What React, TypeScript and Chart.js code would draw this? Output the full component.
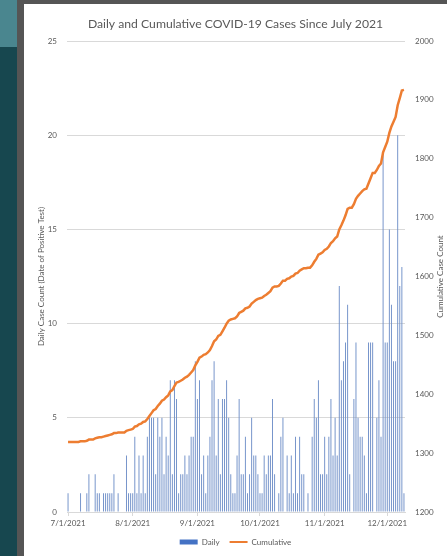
import React, { useEffect, useRef } from 'react';
import { Chart, registerables } from 'chart.js';
Chart.register(...registerables);

const TITLE = 'Daily and Cumulative COVID-19 Cases Since July 2021';
const LEFT_TITLE = 'Daily Case Count (Date of Positive Test)';
const RIGHT_TITLE = 'Cumulative Case Count';
const SERIES_NAMES = ['Daily', 'Cumulative'];
const START = { year: 2021, month: 7, day: 1 };
const monthTickLabels = ['7/1/2021', '8/1/2021', '9/1/2021', '10/1/2021', '11/1/2021', '12/1/2021'];

const dailyJul = [1,0,0,0,0,0,1,0,0,1,2,0,0,2,1,1,0,1,1,1,1,1,2,0,1,0,0,0,3,1,1];
const dailyAug = [1,4,1,3,1,3,1,4,5,5,5,2,5,4,5,2,4,3,7,2,7,6,1,2,2,3,2,3,4,4,8];
const dailySep = [6,7,2,3,1,3,4,7,8,3,6,2,6,6,7,5,2,1,1,3,6,2,2,4,1,2,5,3,3,2];
const dailyOct = [1,1,3,2,3,3,6,2,0,1,4,5,0,3,1,3,1,4,1,4,2,2,0,1,0,4,6,5,7,2,2];
const dailyNov = [4,2,4,6,3,5,3,12,7,8,9,11,2,0,6,9,5,4,4,3,1,9,9,9,0,5,7,4,19,9];
const dailyDec = [9,15,11,8,8,20,12,13,1];

const cumJul = [1319,1319,1319,1319,1319,1319,1320,1320,1320,1321,1323,1323,1323,1325,1326,1327,1327,1328,1329,1330,1331,1332,1334,1334,1335,1335,1335,1335,1338,1339,1340];
const cumAug = [1341,1345,1346,1349,1350,1353,1354,1358,1363,1368,1373,1375,1380,1384,1389,1391,1395,1398,1405,1407,1414,1420,1421,1423,1425,1428,1430,1433,1437,1441,1449];
const cumSep = [1455,1462,1464,1467,1468,1471,1475,1482,1490,1493,1499,1501,1507,1513,1520,1525,1527,1528,1529,1532,1538,1540,1542,1546,1547,1549,1554,1557,1560,1562];
const cumOct = [1563,1564,1567,1569,1572,1575,1581,1583,1583,1584,1588,1593,1593,1596,1597,1600,1601,1605,1606,1610,1612,1614,1614,1615,1615,1619,1625,1630,1637,1639,1641];
const cumNov = [1645,1647,1651,1657,1660,1665,1668,1680,1687,1695,1704,1715,1717,1717,1723,1732,1737,1741,1745,1748,1749,1758,1767,1776,1776,1781,1788,1792,1811,1820];
const cumDec = [1829,1844,1855,1863,1871,1891,1903,1916,1917];

const daily = [...dailyJul, ...dailyAug, ...dailySep, ...dailyOct, ...dailyNov, ...dailyDec];
const cumulative = [...cumJul, ...cumAug, ...cumSep, ...cumOct, ...cumNov, ...cumDec];

const categories: string[] = daily.map((_, i) => {
  const d = new Date(START.year, START.month - 1, START.day + i);
  return `${d.getMonth() + 1}/${d.getDate()}/${d.getFullYear()}`;
});

const TEXT = '#595959';
const FONT = 'Lato';
const BAR = '#6f8fc8';
const LEGEND_BAR = '#4472C4';
const LINE = '#ED7D31';
const GRID = '#d9d9d9';

const rightTitlePlugin = {
  id: 'rightTitle',
  afterDraw(chart: any) {
    const s = chart.scales.y1;
    const ctx = chart.ctx;
    ctx.save();
    ctx.translate(s.right - 6.5, (s.top + s.bottom) / 2);
    ctx.rotate(-Math.PI / 2);
    ctx.font = `8px ${FONT}`;
    ctx.fillStyle = TEXT;
    ctx.textAlign = 'center';
    ctx.textBaseline = 'middle';
    ctx.fillText(RIGHT_TITLE, 0, 0);
    ctx.restore();
  },
};

export default function App() {
  const ref = useRef<HTMLCanvasElement>(null);
  useEffect(() => {
    const chart = new Chart(ref.current as HTMLCanvasElement, {
      type: 'bar',
      data: {
        labels: categories,
        datasets: [
          {
            type: 'bar',
            label: SERIES_NAMES[0],
            data: daily,
            backgroundColor: BAR,
            borderWidth: 0,
            categoryPercentage: 1,
            barPercentage: 0.45,
            yAxisID: 'y',
            order: 2,
          } as any,
          {
            type: 'line',
            label: SERIES_NAMES[1],
            data: cumulative,
            borderColor: LINE,
            backgroundColor: LINE,
            borderWidth: 2.5,
            pointRadius: 0,
            tension: 0,
            yAxisID: 'y1',
            order: 1,
          } as any,
        ],
      },
      options: {
        responsive: false,
        animation: false,
        devicePixelRatio: 1,
        layout: { padding: 0 },
        plugins: {
          tooltip: { enabled: false },
          title: {
            display: true,
            text: TITLE,
            color: TEXT,
            font: { family: FONT, size: 12.2, weight: 'normal' },
            padding: { top: 12.7, bottom: 9.7 },
          },
          legend: {
            position: 'bottom',
            labels: {
              color: TEXT,
              font: { family: FONT, size: 8 },
              usePointStyle: true,
              pointStyleWidth: 18,
              boxWidth: 18,
              boxHeight: 5,
              padding: 10,
              generateLabels: () => [
                { text: SERIES_NAMES[0], fillStyle: LEGEND_BAR, strokeStyle: LEGEND_BAR, lineWidth: 0, pointStyle: 'rect', datasetIndex: 0, hidden: false, fontColor: TEXT },
                { text: SERIES_NAMES[1], fillStyle: LINE, strokeStyle: LINE, lineWidth: 2, pointStyle: 'line', datasetIndex: 1, hidden: false, fontColor: TEXT },
              ] as any,
            },
          },
        },
        scales: {
          x: {
            type: 'category',
            offset: true,
            grid: {
              display: true,
              drawOnChartArea: false,
              drawTicks: true,
              tickLength: 4,
              offset: false,
              color: (c: any) => (monthTickLabels.includes(categories[c.index]) ? GRID : 'rgba(0,0,0,0)'),
            },
            border: { display: true, color: GRID },
            ticks: {
              autoSkip: false,
              maxRotation: 0,
              minRotation: 0,
              padding: 3,
              color: TEXT,
              font: { family: FONT, size: 8 },
              callback: (_v: any, i: number) => (monthTickLabels.includes(categories[i]) ? categories[i] : ''),
            },
            afterFit: (s: any) => { s.height = 16; },
          },
          y: {
            position: 'left',
            min: 0,
            max: 25,
            ticks: { stepSize: 5, padding: 10, color: TEXT, font: { family: FONT, size: 8 }, callback: (v: any) => String(v) },
            grid: { color: GRID, drawTicks: false },
            border: { display: false },
            title: {
              display: true,
              text: LEFT_TITLE,
              color: TEXT,
              font: { family: FONT, size: 8 },
              padding: { top: 12.7, bottom: 0 },
            },
            afterFit: (s: any) => { s.width = 43; },
          },
          y1: {
            position: 'right',
            min: 1200,
            max: 2000,
            ticks: { stepSize: 100, padding: 10, color: TEXT, font: { family: FONT, size: 8 }, callback: (v: any) => String(v) },
            grid: { drawOnChartArea: false, drawTicks: false },
            border: { display: false },
            afterFit: (s: any) => { s.width = 42; },
          },
        },
      } as any,
      plugins: [rightTitlePlugin],
    });
    return () => chart.destroy();
  }, []);

  return (
    <div style={{ position: 'fixed', left: 0, top: 0, width: 447, height: 556, overflow: 'hidden', background: '#ffffff' }}>
      <div style={{ position: 'absolute', left: 0, top: 0, width: 17, height: 47, background: '#4a868f' }} />
      <div style={{ position: 'absolute', left: 0, top: 47, width: 17, height: 509, background: '#17474f' }} />
      <div style={{ position: 'absolute', left: 17, top: 0, width: 7, height: 556, background: '#555555' }} />
      <div style={{ position: 'absolute', left: 17, top: 0, width: 430, height: 4, background: '#555555' }} />
      <canvas ref={ref} width={423} height={552} style={{ position: 'absolute', left: 24, top: 4, width: 423, height: 552 }} />
    </div>
  );
}
